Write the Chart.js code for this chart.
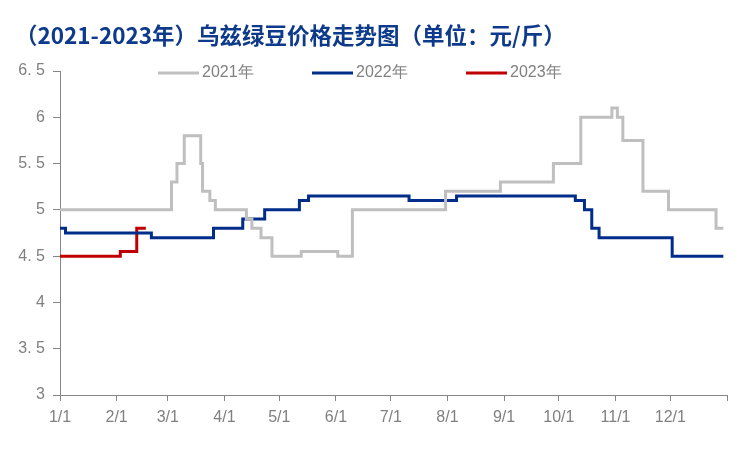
<!DOCTYPE html>
<html>
<head>
<meta charset="utf-8">
<script src="https://cdn.jsdelivr.net/npm/chart.js@4.4.1/dist/chart.umd.min.js"></script>
<style>
    html, body { margin: 0; padding: 0; background: #fff; }
    #wrap { width: 750px; height: 449px; }
</style>
</head>
<body>
<div id="wrap"><canvas id="priceChart" width="750" height="449"></canvas></div>
<script>
// day-of-year where each price level starts, and the level (yuan/jin)
const days2021 = [0, 61, 64, 68, 77, 78, 82, 85, 102, 105, 110, 116, 132, 152, 160, 211, 241, 270, 285, 302, 305, 308, 319, 333, 359, 363];
const prices2021 = [5.0, 5.3, 5.5, 5.8, 5.5, 5.2, 5.1, 5.0, 4.9, 4.8, 4.7, 4.5, 4.55, 4.5, 5.0, 5.2, 5.3, 5.5, 6.0, 6.1, 6.0, 5.75, 5.2, 5.0, 4.8, 4.8];

const days2022 = [0, 3, 50, 84, 100, 112, 131, 136, 191, 217, 282, 287, 291, 295, 335, 363];
const prices2022 = [4.8, 4.75, 4.7, 4.8, 4.9, 5.0, 5.1, 5.15, 5.1, 5.15, 5.1, 5.0, 4.8, 4.7, 4.5, 4.5];

const days2023 = [0, 33, 42, 47];
const prices2023 = [4.5, 4.55, 4.8, 4.8];

const seriesNames = ['2021年', '2022年', '2023年'];
const seriesColors = ['#BFBFBF', '#002C8A', '#C00000'];

// x ticks: first day of each month
const monthStarts = [0, 31, 59, 90, 120, 151, 181, 212, 243, 273, 304, 334, 365];
const monthLabels = ['1/1', '2/1', '3/1', '4/1', '5/1', '6/1', '7/1', '8/1', '9/1', '10/1', '11/1', '12/1', ''];

const yTickValues = [3, 3.5, 4, 4.5, 5, 5.5, 6, 6.5];
const yTickLabels = ['3', '3. 5', '4', '4. 5', '5', '5. 5', '6', '6. 5'];

const titleText = '（2021-2023年）乌兹绿豆价格走势图（单位：元/斤）';

const toPoints = (days, prices) => days.map((d, i) => ({ x: d, y: prices[i] }));

const axisColor = '#868686';
const labelColor = '#808080';
const tickFont = "'Liberation Sans Narrow', 'Liberation Sans', Arial, sans-serif";

// title + legend drawn on top, legend overlaps the plot top like the original
const headerPlugin = {
    id: 'header',
    afterDraw: (chart) => {
        const ctx = chart.ctx;
        ctx.save();
        ctx.fillStyle = '#0D3A8A';
        ctx.font = "bold 22.5px 'Noto Sans CJK SC', sans-serif";
        ctx.textBaseline = 'middle';
        ctx.textAlign = 'left';
        ctx.fillText(titleText, 15, 35);

        const starts = [158, 312, 466];
        ctx.font = "16px " + tickFont;
        chart.data.datasets.forEach((ds, i) => {
            const x = starts[i];
            ctx.strokeStyle = ds.borderColor;
            ctx.lineWidth = 3;
            ctx.beginPath();
            ctx.moveTo(x, 73);
            ctx.lineTo(x + 41, 73);
            ctx.stroke();
            ctx.fillStyle = labelColor;
            ctx.fillText(ds.label, x + 44, 73);
        });
        ctx.restore();
    }
};

const ctx = document.getElementById('priceChart').getContext('2d');
new Chart(ctx, {
    type: 'line',
    data: {
        datasets: [
            { label: seriesNames[0], data: toPoints(days2021, prices2021), borderColor: seriesColors[0] },
            { label: seriesNames[1], data: toPoints(days2022, prices2022), borderColor: seriesColors[1] },
            { label: seriesNames[2], data: toPoints(days2023, prices2023), borderColor: seriesColors[2] }
        ].map(ds => Object.assign(ds, {
            borderWidth: 3,
            stepped: true,
            pointRadius: 0,
            fill: false
        }))
    },
    options: {
        responsive: false,
        animation: false,
        layout: { padding: { top: 71, right: 23, left: 0, bottom: 0 } },
        plugins: {
            legend: { display: false },
            title: { display: false },
            tooltip: { enabled: false }
        },
        scales: {
            x: {
                type: 'linear',
                min: 0,
                max: 365,
                afterBuildTicks: (scale) => {
                    scale.ticks = monthStarts.map(v => ({ value: v }));
                },
                afterFit: (scale) => { scale.height = 54; },
                ticks: {
                    autoSkip: false,
                    maxRotation: 0,
                    padding: 7,
                    color: labelColor,
                    font: { size: 16, family: tickFont },
                    callback: (value) => {
                        const i = monthStarts.indexOf(value);
                        return i >= 0 ? monthLabels[i] : '';
                    }
                },
                grid: { drawOnChartArea: false, drawTicks: true, tickLength: 6, color: axisColor },
                border: { color: axisColor, width: 1 }
            },
            y: {
                min: 3,
                max: 6.5,
                afterBuildTicks: (scale) => {
                    scale.ticks = yTickValues.map(v => ({ value: v }));
                },
                afterFit: (scale) => { scale.width = 60; },
                ticks: {
                    padding: 8,
                    color: labelColor,
                    font: { size: 16, family: tickFont },
                    callback: (value) => {
                        const i = yTickValues.indexOf(value);
                        return i >= 0 ? yTickLabels[i] : '';
                    }
                },
                grid: { drawOnChartArea: false, drawTicks: true, tickLength: 7, color: axisColor },
                border: { color: axisColor, width: 1 }
            }
        }
    },
    plugins: [headerPlugin]
});
</script>
</body>
</html>
